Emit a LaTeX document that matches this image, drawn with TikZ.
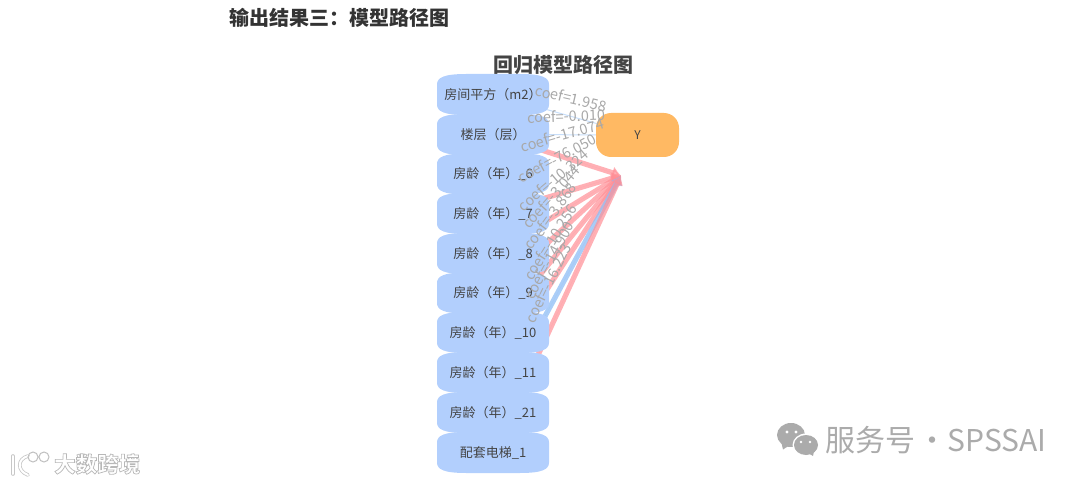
\documentclass[tikz,border=0pt]{standalone}
\usepackage{fontspec}
\setmainfont{Noto Sans CJK SC}
\usetikzlibrary{arrows.meta}
\pgfdeclarelayer{edges}
\pgfdeclarelayer{bubbles}
\pgfsetlayers{edges,bubbles,main}
\definecolor{featblue}{HTML}{B2CFFD}
\definecolor{targ}{HTML}{FFB963}
\definecolor{pinkedge}{HTML}{FF8F96}
\definecolor{blueedge}{HTML}{8FBDF5}
\definecolor{ink}{HTML}{444444}
\definecolor{coefgrey}{HTML}{A8A8A8}
\definecolor{wm}{HTML}{ABABAB}
\newcommand{\outlined}[1]{\special{pdf:code q 2 Tr 0.7 w 0.72 G 1 g}#1\special{pdf:code Q}}
\newcommand{\bubble}[1]{\fill[featblue,shift={(#1.center)}] (-56,-10) .. controls (-56,-17) and (-49,-20.5) .. (-27,-20.5) -- (27,-20.5) .. controls (49,-20.5) and (56,-17) .. (56,-10) -- (56,10) .. controls (56,17) and (49,20.5) .. (27,20.5) -- (-27,20.5) .. controls (-49,20.5) and (-56,17) .. (-56,10) -- cycle;}
\tikzset{
  feature/.style={minimum width=112pt,minimum height=40pt,inner sep=0pt,text=ink,font=\fontsize{13}{13}\selectfont},
  target/.style={fill=targ,rounded corners=15pt,minimum width=83pt,minimum height=44pt,inner sep=0pt,text=ink,font=\fontsize{12}{12}\selectfont},
  edgepink/.style={draw=pinkedge,draw opacity=.7,fill opacity=.7,fill=pinkedge,line width=5.2pt,-{Latex[length=9pt,width=13pt]}},
  edgeblue/.style={draw=blueedge,draw opacity=.75,fill opacity=.75,fill=blueedge,line width=5.2pt,-{Latex[length=9pt,width=13pt]}},
  edgethin/.style={draw=blueedge,draw opacity=.5,line width=1pt},
  coef/.style={text=coefgrey,inner sep=0pt,font=\fontsize{14.5}{14.5}\selectfont},
  headline/.style={inner sep=0pt,font=\fontsize{20}{20}\selectfont\bfseries}
}
\begin{document}
\begin{tikzpicture}[x=1pt,y=-1pt]
\useasboundingbox (0,0) rectangle (1080,484);
\node[headline,text=black!80,anchor=west] (head) at (229,18) {输出结果三：模型路径图};
\node[headline,text=ink] (title) at (563,65) {回归模型路径图};

\coordinate (tip) at (621,175.5);

\node[feature] (n1) at (493,94.5) {房间平方（m2）};
\node[feature] (n2) at (493,134.5) {楼层（层）};
\node[feature] (n3) at (493,174) {房龄（年）\_6};
\node[feature] (n4) at (493,213.5) {房龄（年）\_7};
\node[feature] (n5) at (493,253.5) {房龄（年）\_8};
\node[feature] (n6) at (493,293) {房龄（年）\_9};
\node[feature] (n7) at (493,332.5) {房龄（年）\_10};
\node[feature] (n8) at (493,372.5) {房龄（年）\_11};
\node[feature] (n9) at (493,412.5) {房龄（年）\_21};
\node[feature] (n10) at (493,452.5) {配套电梯\_1};
\node[target] (y) at (637.5,135) {Y};

\begin{pgfonlayer}{bubbles}
\bubble{n1}\bubble{n2}\bubble{n3}\bubble{n4}\bubble{n5}
\bubble{n6}\bubble{n7}\bubble{n8}\bubble{n9}\bubble{n10}
\end{pgfonlayer}

\begin{pgfonlayer}{edges}
\draw[edgethin] (n1.center) -- (y.center);
\draw[edgethin] (n2.center) -- (y.center);
\draw[edgepink] (n2.center) -- (tip);
\draw[edgepink] (n4.center) -- (tip);
\draw[edgepink] (n5.center) -- (tip);
\draw[edgepink] (n6.center) -- (tip);
\draw[edgepink] (n7.center) -- (tip);
\draw[edgepink] (n8.center) -- (tip);
\draw[edgeblue] (n9.center) -- (tip);
\draw[edgepink] (n10.center) -- (tip);
\end{pgfonlayer}

\node[coef,rotate=-13] (l1) at (571,98) {coef=1.958};
\node[coef,rotate=2] (l2) at (566,116) {coef=-0.010};
\node[coef,rotate=16] (l3) at (562,135) {coef=-17.074};
\node[coef,rotate=28] (l4) at (557,158) {coef=-76.050};
\node[coef,rotate=40] (l5) at (553,180) {coef=-10.324};
\node[coef,rotate=48] (l6) at (551,197) {coef=-3.044};
\node[coef,rotate=54] (l7) at (550,216) {coef=-3.868};
\node[coef,rotate=58] (l8) at (550,242) {coef=-10.256};
\node[coef,rotate=61] (l9) at (549,260) {coef=-14.900};
\node[coef,rotate=64] (l10) at (548,283) {coef=-16.223};

% WeChat watermark
\fill[wm] (791,435) ellipse (14pt and 12pt);
\fill[wm] (783,449.5) -- (781,441) -- (790,445) -- cycle;
\fill[white] (806,445) ellipse (13.5pt and 11.5pt);
\fill[wm] (806,445) ellipse (12pt and 10pt);
\fill[wm] (813,456) -- (808,453) -- (814,451) -- cycle;
\fill[white] (787,432) circle (1.7pt) (796,432) circle (1.7pt) (801,442) circle (1.4pt) (810,442) circle (1.4pt);
\node[anchor=west,inner sep=0pt,text=wm,font=\fontsize{30}{30}\selectfont] (wmtext) at (825,440) {服务号\kern-4pt{} · \kern-7pt{}SPSSAI};

% left-bottom logo watermark
\draw[draw=black!22,line width=3.6pt,line cap=round] (13,456) -- (13,474);
\draw[white,line width=2pt,line cap=round] (13,456) -- (13,474);
\draw[draw=black!22,line width=3.6pt,line cap=round] (28,456) .. controls (17,459) and (17,471) .. (28,475);
\draw[white,line width=2pt,line cap=round] (28,456) .. controls (17,459) and (17,471) .. (28,475);
\draw[draw=black!25,line width=1pt] (33,457) circle (5pt) (44,457) circle (5pt);
\node[anchor=west,inner sep=0pt,font=\fontsize{21.5}{21.5}\selectfont\bfseries] (wmleft) at (54,464) {\outlined{大数跨境}};
\end{tikzpicture}
\end{document}
